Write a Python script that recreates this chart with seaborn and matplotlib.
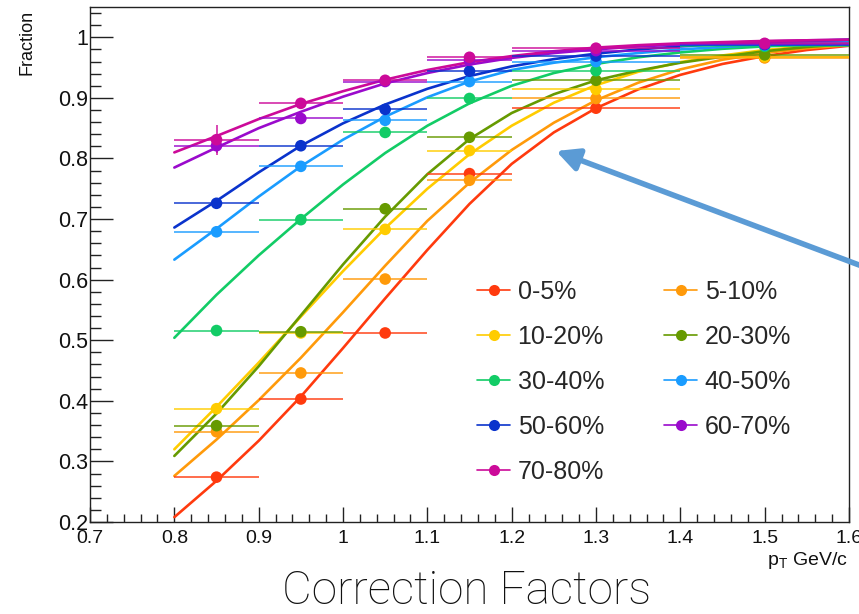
import matplotlib
matplotlib.use("Agg")
import numpy as np
import pandas as pd
import matplotlib.pyplot as plt
from matplotlib.ticker import FixedLocator, FixedFormatter, MultipleLocator
from matplotlib.lines import Line2D
import seaborn as sns

# Centrality classes and their colours
centralities = ["0-5%", "5-10%", "10-20%", "20-30%", "30-40%",
                "40-50%", "50-60%", "60-70%", "70-80%"]
colors = ["#FF3A0E", "#FF9A0A", "#FFCC00", "#669A00", "#12CC66",
          "#1A9CFF", "#0A33CC", "#9A0ACC", "#CC0A99"]

# pT bins (centre and half width)
pt_centers = [0.85, 0.95, 1.05, 1.15, 1.30, 1.50]
pt_half_widths = [0.05, 0.05, 0.05, 0.05, 0.10, 0.10]

# Measured fractions per centrality class
frac_0_5 = [0.274, 0.403, 0.512, 0.775, 0.883, 0.967]
frac_5_10 = [0.349, 0.446, 0.601, 0.764, 0.899, 0.966]
frac_10_20 = [0.387, 0.512, 0.683, 0.813, 0.914, 0.968]
frac_20_30 = [0.359, 0.514, 0.717, 0.835, 0.929, 0.971]
frac_30_40 = [0.516, 0.699, 0.843, 0.899, 0.945, 0.985]
frac_40_50 = [0.679, 0.787, 0.863, 0.927, 0.960, 0.987]
frac_50_60 = [0.726, 0.821, 0.881, 0.944, 0.969, 0.988]
frac_60_70 = [0.821, 0.866, 0.927, 0.962, 0.978, 0.989]
frac_70_80 = [0.831, 0.891, 0.929, 0.967, 0.982, 0.990]

# Vertical uncertainties (only the peripheral low-pT ones are visible)
yerr_60_70 = [0.012, 0.004, 0.004, 0.003, 0.003, 0.002]
yerr_70_80 = [0.025, 0.006, 0.005, 0.004, 0.005, 0.003]

# Fit curves sampled along pT
fit_pt = [0.80, 0.85, 0.90, 0.95, 1.00, 1.05, 1.10, 1.15, 1.20,
          1.25, 1.30, 1.35, 1.40, 1.45, 1.50, 1.55, 1.60]
fit_0_5 = [0.208, 0.268, 0.334, 0.407, 0.487, 0.569, 0.649, 0.725, 0.791,
           0.843, 0.883, 0.914, 0.938, 0.956, 0.969, 0.979, 0.986]
fit_5_10 = [0.276, 0.336, 0.401, 0.471, 0.546, 0.623, 0.697, 0.760, 0.814,
            0.859, 0.896, 0.925, 0.947, 0.963, 0.974, 0.982, 0.987]
fit_10_20 = [0.320, 0.390, 0.463, 0.539, 0.614, 0.685, 0.750, 0.807, 0.854,
             0.892, 0.921, 0.943, 0.959, 0.970, 0.979, 0.985, 0.989]
fit_20_30 = [0.309, 0.379, 0.457, 0.541, 0.625, 0.704, 0.774, 0.832, 0.875,
             0.906, 0.929, 0.945, 0.958, 0.968, 0.977, 0.984, 0.989]
fit_30_40 = [0.504, 0.575, 0.640, 0.700, 0.757, 0.809, 0.854, 0.891, 0.920,
             0.941, 0.956, 0.967, 0.975, 0.981, 0.985, 0.988, 0.991]
fit_40_50 = [0.633, 0.684, 0.737, 0.787, 0.831, 0.869, 0.901, 0.927, 0.946,
             0.958, 0.967, 0.974, 0.980, 0.984, 0.988, 0.991, 0.993]
fit_50_60 = [0.686, 0.730, 0.777, 0.821, 0.858, 0.889, 0.915, 0.936, 0.952,
             0.964, 0.973, 0.980, 0.985, 0.989, 0.992, 0.994, 0.996]
fit_60_70 = [0.785, 0.818, 0.850, 0.877, 0.902, 0.924, 0.941, 0.955, 0.966,
             0.974, 0.980, 0.985, 0.988, 0.991, 0.993, 0.995, 0.996]
fit_70_80 = [0.810, 0.837, 0.865, 0.890, 0.911, 0.930, 0.946, 0.959, 0.969,
             0.977, 0.983, 0.987, 0.990, 0.992, 0.994, 0.995, 0.996]

# Axis ticks
x_ticks = [0.7, 0.8, 0.9, 1.0, 1.1, 1.2, 1.3, 1.4, 1.5, 1.6]
x_tick_labels = ["0.7", "0.8", "0.9", "1", "1.1", "1.2", "1.3", "1.4", "1.5", "1.6"]
y_ticks = [0.2, 0.3, 0.4, 0.5, 0.6, 0.7, 0.8, 0.9, 1.0]
y_tick_labels = ["0.2", "0.3", "0.4", "0.5", "0.6", "0.7", "0.8", "0.9", "1"]

measured = [frac_0_5, frac_5_10, frac_10_20, frac_20_30, frac_30_40,
            frac_40_50, frac_50_60, frac_60_70, frac_70_80]
fits = [fit_0_5, fit_5_10, fit_10_20, fit_20_30, fit_30_40,
        fit_40_50, fit_50_60, fit_60_70, fit_70_80]
zeros = [0.0] * len(pt_centers)
y_errors = [zeros] * 7 + [yerr_60_70, yerr_70_80]

fit_df = pd.concat(
    [pd.DataFrame({"pt": fit_pt, "fraction": f, "centrality": c})
     for c, f in zip(centralities, fits)],
    ignore_index=True)
point_df = pd.concat(
    [pd.DataFrame({"pt": pt_centers, "fraction": m, "centrality": c})
     for c, m in zip(centralities, measured)],
    ignore_index=True)

sns.set_style("ticks")
plt.rcParams["font.family"] = ["Liberation Sans", "DejaVu Sans"]
plt.rcParams["mathtext.fontset"] = "custom"
plt.rcParams["mathtext.rm"] = "Liberation Sans"
plt.rcParams["mathtext.it"] = "Liberation Sans"

W, H = 859, 614
fig = plt.figure(figsize=(W / 100, H / 100), dpi=100)
fig.patch.set_facecolor("white")
ax = fig.add_axes([90 / W, 92 / H, 759 / W, 515 / H])
ax.set_facecolor("white")

palette = dict(zip(centralities, colors))

# fitted curves
sns.lineplot(data=fit_df, x="pt", y="fraction", hue="centrality",
             hue_order=centralities, palette=palette, estimator=None,
             sort=False, linewidth=1.9, legend=False, ax=ax, zorder=2)
for ln in ax.get_lines():
    ln.set_solid_joinstyle("round")

# bin-width error bars
for c, m, ye in zip(colors, measured, y_errors):
    ax.errorbar(pt_centers, m, xerr=pt_half_widths, yerr=ye, fmt="none",
                ecolor=c, elinewidth=1.3, alpha=0.8, capsize=0, zorder=3)

# measured points
sns.scatterplot(data=point_df, x="pt", y="fraction", hue="centrality",
                hue_order=centralities, palette=palette, s=70,
                edgecolor=None, linewidth=0, legend=False, ax=ax, zorder=4)

ax.set_xlim(0.7, 1.6)
ax.set_ylim(0.2, 1.05)
ax.xaxis.set_major_locator(FixedLocator(x_ticks))
ax.xaxis.set_major_formatter(FixedFormatter(x_tick_labels))
ax.yaxis.set_major_locator(FixedLocator(y_ticks))
ax.yaxis.set_major_formatter(FixedFormatter(y_tick_labels))
ax.xaxis.set_minor_locator(MultipleLocator(0.02))
ax.yaxis.set_minor_locator(MultipleLocator(0.02))
ax.tick_params(axis="both", which="both", direction="in", top=False,
               right=False, color="#222222", width=1.0,
               labelcolor="#111111")
ax.tick_params(axis="x", which="major", length=11, pad=6, labelsize=14)
ax.tick_params(axis="x", which="minor", length=5.5)
ax.tick_params(axis="y", which="major", length=16.5, pad=1.5, labelsize=15.5)
ax.tick_params(axis="y", which="minor", length=8)
ax.set_xlabel("")
ax.set_ylabel("")
for sp in ax.spines.values():
    sp.set_visible(True)
    sp.set_linewidth(1.0)
    sp.set_color("#222222")

# legend laid out row by row in two columns
handles = [Line2D([0], [0], color=c, lw=1.2, marker="o", markersize=8,
                  markeredgewidth=0) for c in colors]
order = [0, 2, 4, 6, 8, 1, 3, 5, 7]
ax.legend([handles[i] for i in order], [centralities[i] for i in order],
          ncol=2, loc="upper left", bbox_to_anchor=(0.51, 0.47),
          frameon=False, fontsize=18, handlelength=1.32, handletextpad=0.3,
          columnspacing=2.4, labelspacing=0.84, borderpad=0,
          borderaxespad=0, numpoints=1)

fig.text(27 / W, 1 - 10 / H, "Fraction", rotation=90, ha="center",
         va="top", fontsize=13, color="#111111")
fig.text(848 / W, 1 - 565 / H, r"p$_{\mathrm{T}}$ GeV/c", ha="right",
         va="baseline", fontsize=14, color="#111111")

fig.text(467 / W, 1 - 604 / H, "Correction Factors", ha="center",
         va="baseline", fontsize=33, family=["Roboto", "DejaVu Sans"],
         fontweight="light", color="#111111")

ax.annotate("", xy=(556, H - 151), xycoords="figure pixels",
            xytext=(875, H - 271), textcoords="figure pixels",
            arrowprops=dict(arrowstyle="-|>,head_length=0.9,head_width=0.45",
                            color="#5B9BD5", lw=4.0, shrinkA=0, shrinkB=0,
                            mutation_scale=15),
            annotation_clip=False)

fig.savefig("out.png", dpi=100, facecolor="white")
